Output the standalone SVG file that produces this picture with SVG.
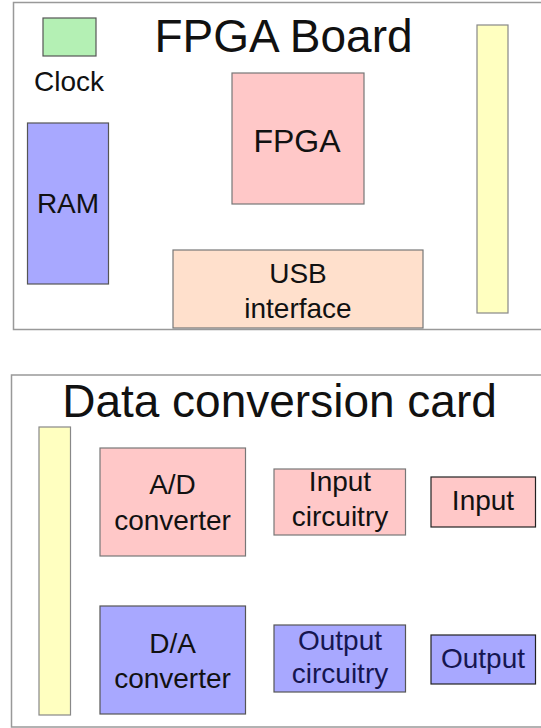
<svg xmlns="http://www.w3.org/2000/svg" width="541" height="728" viewBox="0 0 541 728">
<style>
text{font-family:"Liberation Sans",Arial,sans-serif;fill:#111;text-anchor:middle}
.t{font-size:46px}
.l{font-size:28px}
.frame{fill:#fff;stroke:#999;stroke-width:1.5}
.pink{fill:#ffc8c8;stroke:#777;stroke-width:1.2}
.blue{fill:#a8a8ff;stroke:#555;stroke-width:1.2}
.yel{fill:#ffffc0;stroke:#888;stroke-width:1.2}
.dk{stroke:#222}
</style>
<rect width="541" height="728" fill="#fff"/>
<g id="fpga-board">
<rect class="frame" x="13.5" y="2.5" width="540" height="327"/>
<text class="t" x="283.5" y="52">FPGA Board</text>
</g>
<g id="clock">
<rect x="43" y="18" width="53" height="38" fill="#b4f0b4" stroke="#555" stroke-width="1.2"/>
<text class="l" x="69" y="91">Clock</text>
</g>
<g id="fpga">
<rect class="pink" x="232" y="73" width="132" height="131"/>
<text x="297" y="152" style="font-size:32px">FPGA</text>
</g>
<g id="ram">
<rect class="blue" x="27.5" y="123" width="81" height="161"/>
<text class="l" x="68" y="213">RAM</text>
</g>
<g id="usb">
<rect x="173" y="250" width="250" height="78" fill="#ffe0cc" stroke="#777" stroke-width="1.2"/>
<text class="l" x="298" y="283">USB</text>
<text class="l" x="298" y="318">interface</text>
</g>
<g id="fpga-connector">
<rect class="yel" x="477" y="25" width="31" height="288"/>
</g>
<g id="data-card">
<rect class="frame" x="11.5" y="375" width="540" height="352"/>
<text class="t" x="279.5" y="417">Data conversion card</text>
</g>
<g id="card-connector">
<rect class="yel" x="39" y="427" width="31.5" height="288"/>
</g>
<g id="ad">
<rect class="pink" x="100" y="448" width="145.5" height="108"/>
<text class="l" x="172.5" y="494">A/D</text>
<text class="l" x="172.5" y="530">converter</text>
</g>
<g id="input-circuitry">
<rect class="pink" x="274" y="469" width="131.5" height="66"/>
<text class="l" x="340" y="491">Input</text>
<text class="l" x="340" y="526">circuitry</text>
</g>
<g id="input">
<rect class="pink dk" x="431" y="477" width="104.5" height="50"/>
<text class="l" x="483" y="510">Input</text>
</g>
<g id="da">
<rect class="blue" x="100" y="606" width="145.5" height="108"/>
<text class="l" x="172.5" y="653">D/A</text>
<text class="l" x="172.5" y="688">converter</text>
</g>
<g id="output-circuitry">
<rect class="blue" x="274" y="625" width="131.5" height="67"/>
<text class="l" x="340" y="650" style="fill:#161650">Output</text>
<text class="l" x="340" y="683" style="fill:#161650">circuitry</text>
</g>
<g id="output">
<rect class="blue dk" x="431" y="635" width="104.5" height="49"/>
<text class="l" x="483" y="668" style="fill:#161650">Output</text>
</g>
<g id="connectors"></g>
</svg>
